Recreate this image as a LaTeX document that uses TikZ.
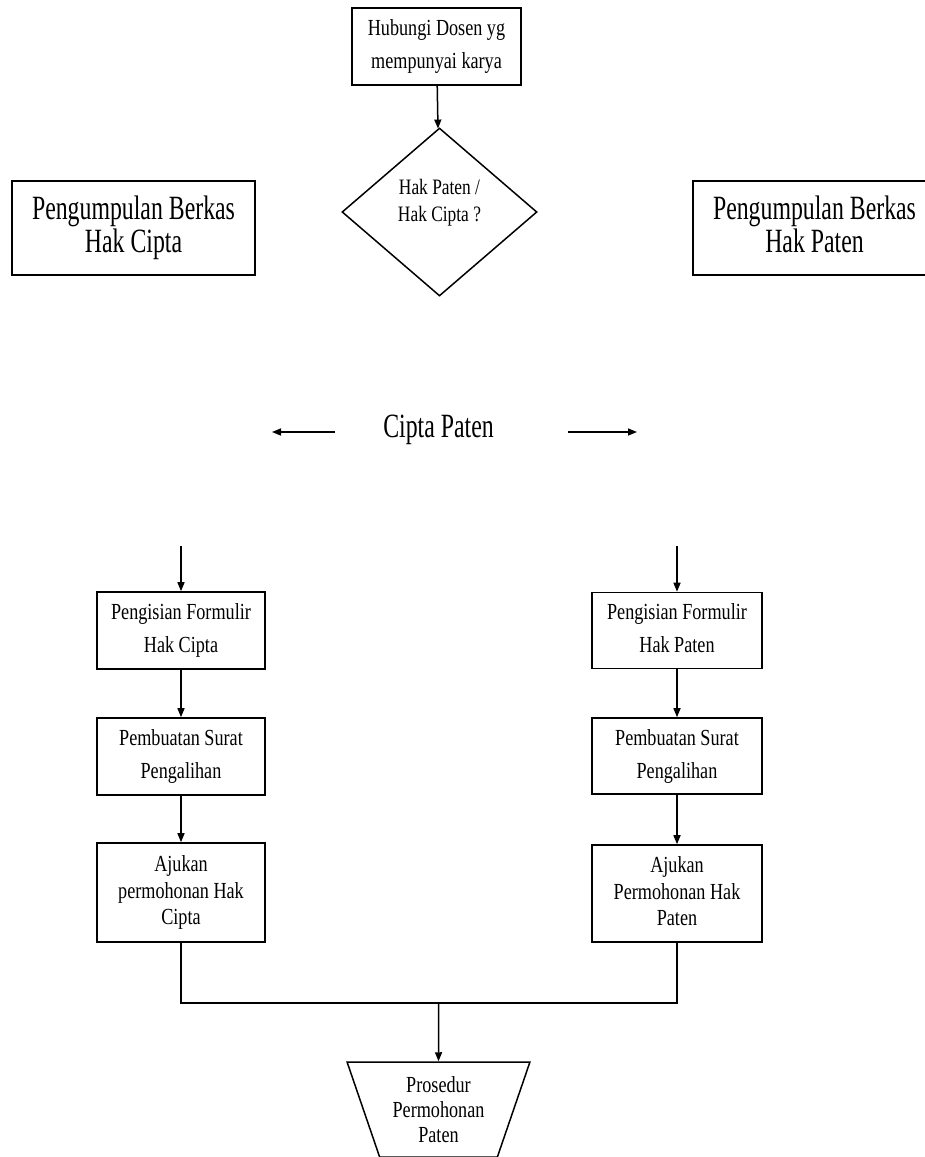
\documentclass[tikz,border=0pt]{standalone}
\usepackage{fontspec}
\setmainfont{Liberation Serif}
\newfontfamily\besarfont[FakeStretch=0.7]{Liberation Serif}
\newfontfamily\kecilfont[FakeStretch=0.79]{Liberation Serif}
\usetikzlibrary{shapes.geometric,arrows.meta}

\tikzset{
  kotak/.style={draw, line width=1.6pt, align=center, inner sep=0pt,
    font=\kecilfont\fontsize{23}{33}\selectfont},
  kotakbesar/.style={kotak, minimum width=243pt, minimum height=94pt,
    font=\besarfont\fontsize{34}{33}\selectfont},
  kiri/.style={kotak, minimum width=168pt},
  kanan/.style={kotak, minimum width=170pt}
}

\begin{document}
\begin{tikzpicture}[x=1pt, y=-1pt, line width=1.5pt, >={Triangle[length=9pt,width=7pt]}]
  \useasboundingbox (0,0) rectangle (924,1157);

  \node[kotak, minimum width=169pt, minimum height=77pt] (hubungi) at (436.5,46.5) {Hubungi Dosen yg\\mempunyai karya};
  \node[draw, diamond, minimum width=195pt, minimum height=168pt, inner sep=0pt, align=center,
    font=\kecilfont\fontsize{22}{27}\selectfont] (jenis) at (439.5,212) {Hak Paten /\\Hak Cipta ?\rule[-24pt]{0pt}{24pt}};

  \node[kotakbesar] (berkasCipta) at (133.5,228) {Pengumpulan Berkas\\Hak Cipta};
  \node[kotakbesar] (berkasPaten) at (814.5,228) {Pengumpulan Berkas\\Hak Paten\vphantom{p}};

  \node[font=\besarfont\fontsize{34}{40}\selectfont] (pilihan) at (438.5,430) {Cipta Paten};
  \coordinate (kiriA) at (335,432);
  \coordinate (kiriB) at (272,432);
  \coordinate (kananA) at (568,432);
  \coordinate (kananB) at (637,432);
  \draw[->] (kiriA) -- (kiriB);
  \draw[->] (kananA) -- (kananB);

  % kolom hak cipta
  \node[kiri, minimum height=77pt] (formCipta) at (181,630.5) {Pengisian Formulir\\Hak Cipta};
  \node[kiri, minimum height=77pt] (suratCipta) at (181,756.5) {Pembuatan Surat\\Pengalihan};
  \node[kiri, minimum height=99pt, font=\kecilfont\fontsize{23}{26.5}\selectfont] (ajuCipta) at (181,892.5) {Ajukan\\permohonan Hak\\Cipta};

  % kolom hak paten
  \node[kanan, minimum height=76pt] (formPaten) at (677,630.5) {Pengisian Formulir\\Hak Paten\vphantom{p}};
  \node[kanan, minimum height=76pt] (suratPaten) at (677,756) {Pembuatan Surat\\Pengalihan};
  \node[kanan, minimum height=97pt, font=\kecilfont\fontsize{23}{26.5}\selectfont] (ajuPaten) at (677,893.5) {Ajukan\\Permohonan Hak\\Paten\vphantom{p}};

  \node[draw, trapezium, shape border rotate=180, trapezium angle=69, trapezium stretches=true,
    minimum width=183pt, minimum height=95pt, inner sep=0pt, align=center,
    font=\kecilfont\fontsize{23}{25}\selectfont] (prosedur) at (438.5,1109.5) {Prosedur\\Permohonan\\Paten};

  \coordinate (masukCipta) at (181,546);
  \coordinate (masukPaten) at (677,546);
  \coordinate (gabung) at (438.5,1003);

  \draw[->] (hubungi) -- (jenis);
  \draw[->] (masukCipta) -- (formCipta);
  \draw[->] (formCipta) -- (suratCipta);
  \draw[->] (suratCipta) -- (ajuCipta);
  \draw[->] (masukPaten) -- (formPaten);
  \draw[->] (formPaten) -- (suratPaten);
  \draw[->] (suratPaten) -- (ajuPaten);
  \draw (ajuCipta.south) |- (gabung) -| (ajuPaten.south);
  \draw[->] (gabung) -- (prosedur);
\end{tikzpicture}
\end{document}
